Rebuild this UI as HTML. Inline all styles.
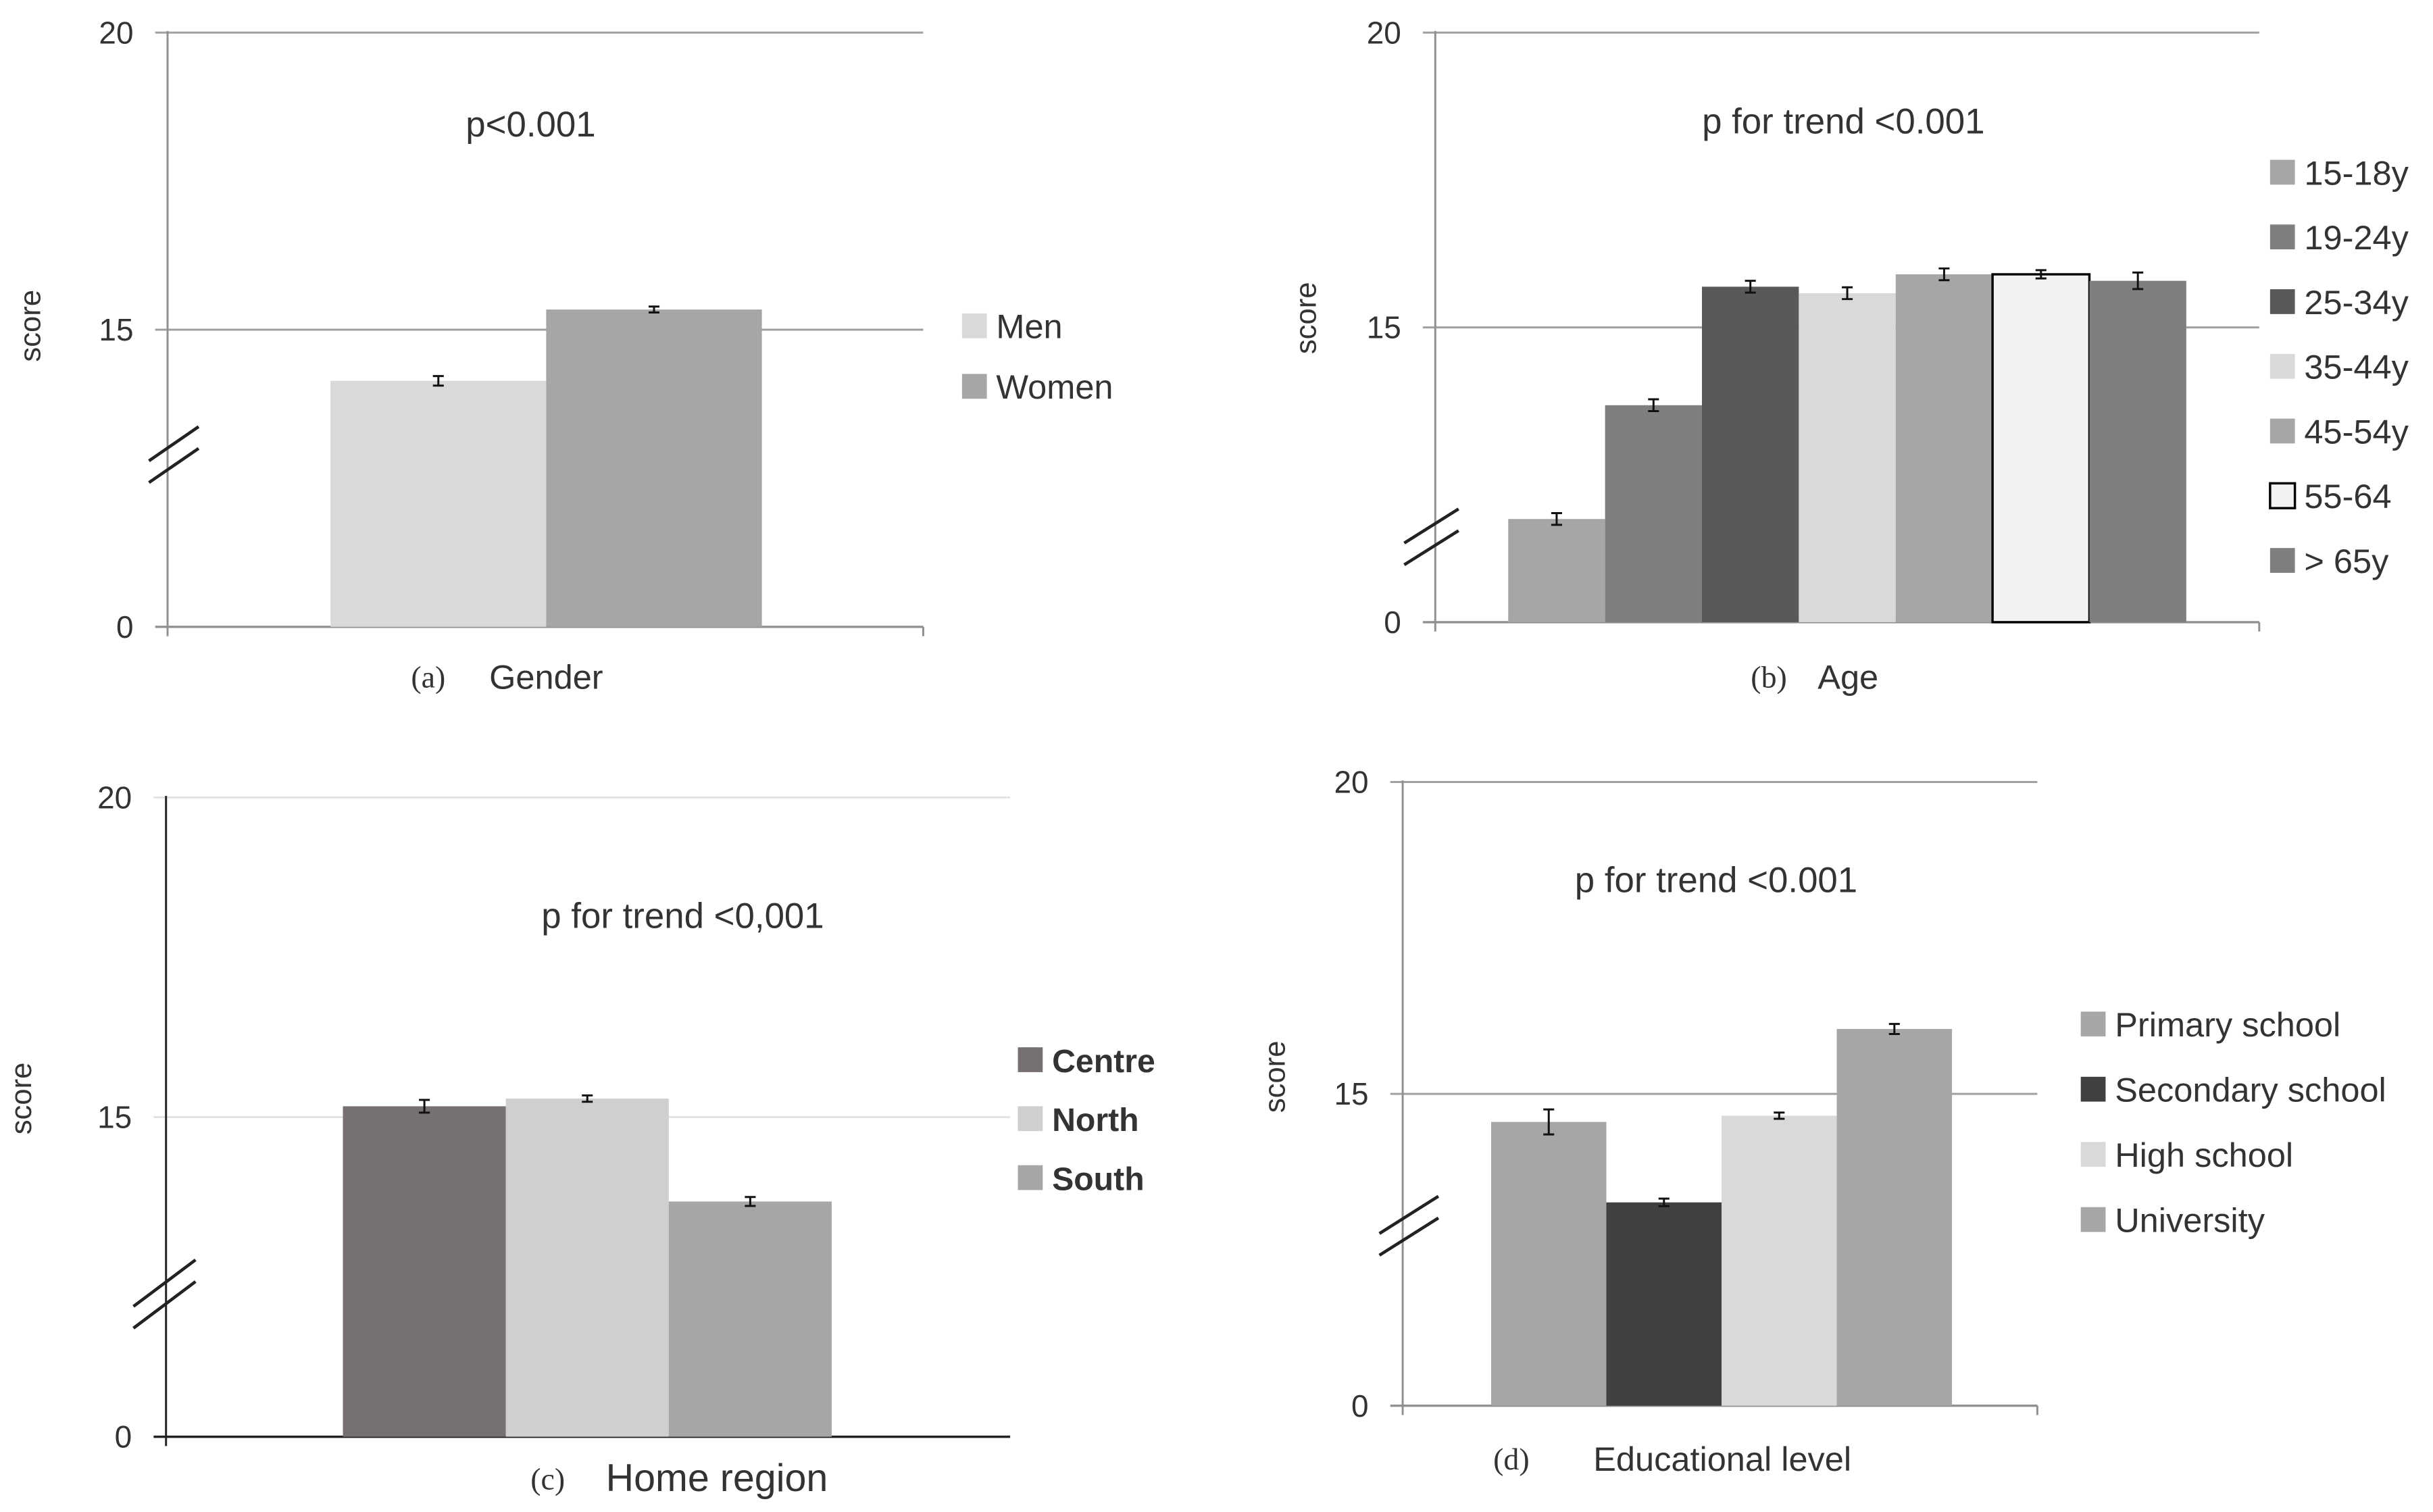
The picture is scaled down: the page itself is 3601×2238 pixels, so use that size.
<!DOCTYPE html>
<html><head><meta charset="utf-8"><style>
html,body{margin:0;padding:0;background:#fff;}
svg{display:block;}
text{font-family:"Liberation Sans",sans-serif;fill:#333;}
</style></head><body>
<svg id="fig" width="3601" height="2238" viewBox="0 0 1568 974.5" xmlns="http://www.w3.org/2000/svg"></svg>
<script>
// Panel (a) Gender
const catsA = ["Men", "Women"];
const valsA = [14.14, 15.34];
const errsA = [0.08, 0.05];
// Panel (b) Age
const catsB = ["15-18y", "19-24y", "25-34y", "35-44y", "45-54y", "55-64", "> 65y"];
const valsB = [11.75, 13.68, 15.69, 15.58, 15.9, 15.9, 15.79];
const errsB = [0.1, 0.1, 0.1, 0.1, 0.1, 0.07, 0.14];
// Panel (c) Home region
const catsC = ["Centre", "North", "South"];
const valsC = [15.17, 15.29, 13.68];
const errsC = [0.1, 0.05, 0.07];
// Panel (d) Educational level
const catsD = ["Primary school", "Secondary school", "High school", "University"];
const valsD = [14.55, 13.26, 14.65, 16.04];
const errsD = [0.2, 0.06, 0.05, 0.08];
// Axis tick labels (label drawn at value position; broken axis: "0" sits at 10)
const tickVals = [10, 15, 20];
const tickLabels = ["0", "15", "20"];

const NS = "http://www.w3.org/2000/svg";
const svg = document.getElementById("fig");
function mk(tag, attrs, parent) {
  const e = document.createElementNS(NS, tag);
  for (const k in attrs) e.setAttribute(k, attrs[k]);
  (parent || svg).appendChild(e);
  return e;
}
function txt(str, attrs, parent) { const t = mk("text", attrs, parent); t.textContent = str; return t; }

function panel(cfg, cats, vals, errs) {
  const g = mk("g", {});
  
  
  const y = v => cfg.y10 + (v - 10) * (cfg.y20 - cfg.y10) / 10;
  // gridlines
  [15, 20].forEach(v => {
    const l = mk("line", {x1: cfg.ax - 8, x2: cfg.right, y1: y(v), y2: y(v), stroke: cfg.grid, "stroke-width": 1.3}, g);
    
    
  });
  // axes
  const ya = mk("line", {x1: cfg.ax, x2: cfg.ax, y1: y(20) - 1, y2: y(10) + 6, stroke: cfg.axis, "stroke-width": 1.3}, g);
  
  
  const xa = mk("line", {x1: cfg.ax - 8, x2: cfg.right, y1: y(10), y2: y(10), stroke: cfg.axis, "stroke-width": 1.5}, g);
  
  
  if (cfg.endTick) {
    const et = mk("line", {x1: cfg.right, x2: cfg.right, y1: y(10), y2: y(10) + 6, stroke: cfg.axis, "stroke-width": 1.3}, g);
    
    
  }
  // tick labels
  tickVals.forEach((v, i) => {
    const t = txt(tickLabels[i], {x: cfg.ax - 22, y: y(v) + 7, "text-anchor": "end", "font-size": 20}, g);
    
    
  });
  // break marks
  const bm = cfg.brk;
  [0, 14].forEach((d, i) => {
    const l = mk("line", {x1: bm[0], y1: bm[1] + d, x2: bm[0] + bm[2], y2: bm[1] + d - bm[3], stroke: "#222", "stroke-width": 2}, g);
    
    
  });
  // bars
  const bw = (cfg.bx1 - cfg.bx0) / cats.length;
  cats.forEach((c, i) => {
    const x0 = cfg.bx0 + i * bw;
    const r = mk("rect", {x: x0, y: y(vals[i]), width: bw, height: y(10) - y(vals[i]), fill: cfg.colors[i]}, g);
    if (cfg.strokes && cfg.strokes[i]) { r.setAttribute("stroke", "#000"); r.setAttribute("stroke-width", 1.5); }
    
    
    const cx = x0 + bw / 2;
    const eg = mk("g", {stroke: "#111", "stroke-width": 1.3}, g);
    
    
    mk("line", {x1: cx, x2: cx, y1: y(vals[i] + errs[i]), y2: y(vals[i] - errs[i])}, eg);
    mk("line", {x1: cx - 3.5, x2: cx + 3.5, y1: y(vals[i] + errs[i]), y2: y(vals[i] + errs[i])}, eg);
    mk("line", {x1: cx - 3.5, x2: cx + 3.5, y1: y(vals[i] - errs[i]), y2: y(vals[i] - errs[i])}, eg);
    // legend
    const ly = cfg.legY + i * cfg.legStep;
    const sq = mk("rect", {x: cfg.legX, y: ly - 8, width: 16, height: 16, fill: cfg.colors[i]}, g);
    if (cfg.strokes && cfg.strokes[i]) { sq.setAttribute("stroke", "#000"); sq.setAttribute("stroke-width", 1.5); }
    
    
    const lt = txt(c, {x: cfg.legX + 22, y: ly + 8, "font-size": cfg.legFont, "font-weight": cfg.legBold ? "bold" : "normal"}, g);
    
    
  });
  // annotation
  const p = txt(cfg.pText, {x: cfg.pX, y: cfg.pY + 8, "text-anchor": "middle", "font-size": 23}, g);
  
  
  // y-axis title
  const sc = txt("score", {x: 0, y: 0, "text-anchor": "middle", "font-size": 19, transform: `translate(${cfg.sX},${cfg.sY}) rotate(-90)`}, g);
  
  
  // caption
  const cl = txt(cfg.capLetter, {x: cfg.capLX, y: cfg.capY + 7, "text-anchor": "middle", "font-size": 20, style: 'font-family:"Liberation Serif",serif'}, g);
  
  
  const ct = txt(cfg.capText, {x: cfg.capTX, y: cfg.capY + 8, "text-anchor": "middle", "font-size": cfg.capFont}, g);
  
  
}

panel({id: "panel-a-gender", ax: 108, right: 595, y10: 404, y20: 21, grid: "#a0a0a0", axis: "#909090", endTick: true,
  brk: [96, 297, 32, 22], bx0: 213, bx1: 491, colors: ["#d9d9d9", "#a6a6a6"],
  legX: 620, legY: 210, legStep: 39, legFont: 22, pText: "p<0.001", pX: 342, pY: 80,
  sX: 26, sY: 210, capLetter: "(a)", capLX: 276, capText: "Gender", capTX: 352, capY: 436, capFont: 22},
  catsA, valsA, errsA);

panel({id: "panel-b-age", ax: 925, right: 1456, y10: 401, y20: 21, grid: "#a0a0a0", axis: "#909090", endTick: true,
  brk: [905, 350, 35, 22], bx0: 972, bx1: 1409,
  colors: ["#a6a6a6", "#7f7f7f", "#595959", "#d9d9d9", "#a6a6a6", "#f2f2f2", "#7f7f7f"],
  strokes: [0, 0, 0, 0, 0, 1, 0],
  legX: 1463, legY: 111, legStep: 41.7, legFont: 22, pText: "p for trend <0.001", pX: 1188, pY: 78,
  sX: 848, sY: 205, capLetter: "(b)", capLX: 1140, capText: "Age", capTX: 1191, capY: 436, capFont: 22},
  catsB, valsB, errsB);

panel({id: "panel-c-home-region", ax: 107, right: 651, y10: 926, y20: 514, grid: "#e3e3e3", axis: "#222", endTick: false,
  brk: [86, 842, 40, 30], bx0: 221, bx1: 536, colors: ["#767070", "#d0cece", "#a6a6a6"],
  legX: 656, legY: 683, legStep: 38, legFont: 21, legBold: true, pText: "p for trend <0,001", pX: 440, pY: 590,
  sX: 20, sY: 708, capLetter: "(c)", capLX: 353, capText: "Home region", capTX: 462, capY: 953, capFont: 25},
  catsC, valsC, errsC);

panel({id: "panel-d-education", ax: 904, right: 1313, y10: 906, y20: 504, grid: "#a0a0a0", axis: "#909090", endTick: true,
  brk: [889, 795, 38, 24], bx0: 961, bx1: 1258, colors: ["#a6a6a6", "#404040", "#d9d9d9", "#a6a6a6"],
  legX: 1341, legY: 660, legStep: 42, legFont: 22, pText: "p for trend <0.001", pX: 1106, pY: 567,
  sX: 828, sY: 694, capLetter: "(d)", capLX: 974, capText: "Educational level", capTX: 1110, capY: 940, capFont: 22},
  catsD, valsD, errsD);
</script>
</body></html>
